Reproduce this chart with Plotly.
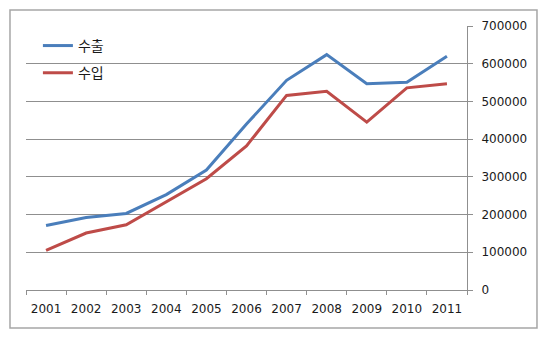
import plotly.graph_objects as go

# Annual trade totals, 2001-2011
years = ["2001", "2002", "2003", "2004", "2005", "2006",
         "2007", "2008", "2009", "2010", "2011"]
exports = [171000, 192000, 203000, 253000, 318000, 440000,
           556000, 624000, 547000, 551000, 620000]
imports = [105000, 151000, 173000, 233000, 295000, 382000,
           516000, 527000, 445000, 536000, 547000]
series_names = ["수출", "수입"]

y_ticks = [0, 100000, 200000, 300000, 400000, 500000, 600000, 700000]

axis_gray = "#8f8f8f"
text_color = "#1a1a1a"
base_font = "DejaVu Sans, Noto Sans CJK KR, sans-serif"

fig = go.Figure()
fig.add_trace(go.Scatter(
    x=years, y=exports, name=series_names[0], mode="lines",
    line=dict(color="#4a7ebb", width=3), legendgroup="a",
))
fig.add_trace(go.Scatter(
    x=years, y=imports, name=series_names[1], mode="lines",
    line=dict(color="#be4b48", width=3), legendgroup="b",
))

fig.update_layout(
    width=550, height=344,
    margin=dict(l=26, r=83, t=26, b=54),
    paper_bgcolor="white", plot_bgcolor="white",
    font=dict(family=base_font, size=12, color=text_color),
    showlegend=True,
    legend=dict(
        x=0.027, y=0.985, xanchor="left", yanchor="top",
        bgcolor="rgba(0,0,0,0)",
        font=dict(family="Noto Sans CJK KR, sans-serif", size=14, color=text_color),
        tracegroupgap=6, traceorder="grouped",
    ),
    xaxis=dict(
        type="category", tickson="boundaries", range=[-0.5, len(years) - 0.5],
        showgrid=False, showline=True, linecolor=axis_gray, linewidth=1,
        ticks="outside", ticklen=4, tickcolor=axis_gray,
        tickfont=dict(size=12), zeroline=False, ticklabelstandoff=8,
    ),
    yaxis=dict(
        side="right", range=[0, 700000], tickvals=y_ticks, tickformat="d",
        showgrid=True, gridcolor=axis_gray, gridwidth=1,
        showline=True, linecolor=axis_gray, linewidth=1,
        ticks="outside", ticklen=5, tickcolor=axis_gray,
        tickfont=dict(size=12), zeroline=False, ticklabelstandoff=6,
    ),
    shapes=[dict(
        type="rect", xref="paper", yref="paper",
        x0=-0.0363, x1=1.1587, y0=-0.1439, y1=1.0606,
        line=dict(color="#a6a6a6", width=1.5), fillcolor="rgba(0,0,0,0)",
        layer="below",
    )],
)

fig.write_html("out.html")
